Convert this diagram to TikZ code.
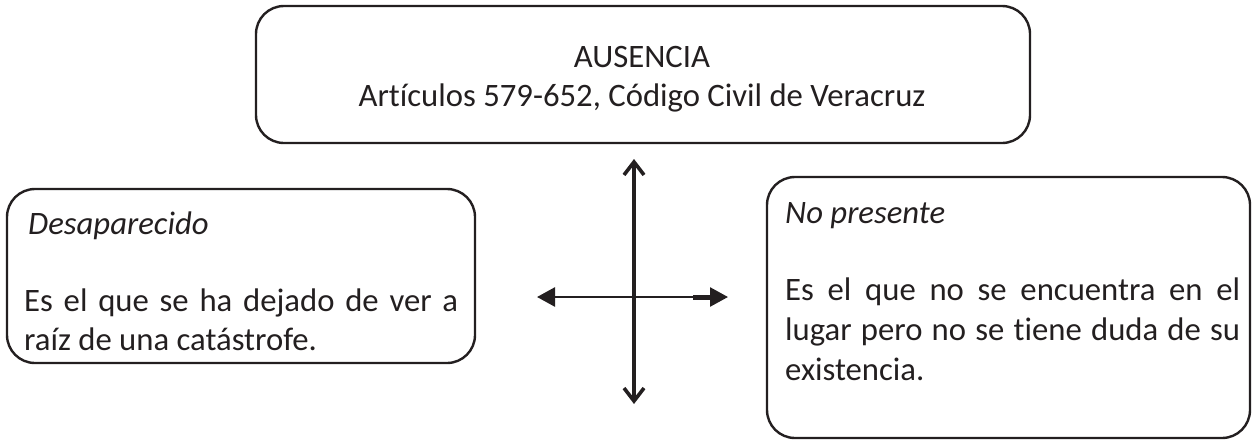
\documentclass[tikz,border=0pt]{standalone}
\usepackage{fontspec}
\setmainfont{Carlito}[Ligatures=NoCommon]
\usetikzlibrary{arrows.meta}
\definecolor{ink}{HTML}{231F20}
\begin{document}
\begin{tikzpicture}[x=1pt,y=-1pt,
  box/.style={draw=ink, line width=2.4pt, rounded corners=28pt, inner sep=0pt},
  txt/.style={inner sep=0pt, text=ink, font=\fontsize{32.7}{40}\selectfont},
  vline/.style={draw=ink, line width=3.6pt, {Straight Barb[length=13pt,width=20pt]}-{Straight Barb[length=13pt,width=20pt]}},
  hline/.style={draw=ink, line width=2.6pt, {Triangle[length=18pt,width=19pt]}-{Triangle[length=18pt,width=19pt]}}]
\useasboundingbox (0,0) rectangle (1252,440);
% boxes
\node[box, minimum width=774pt, minimum height=137pt] (top) at (643,74.5) {};
\node[box, minimum width=468pt, minimum height=174pt] (left) at (241,276) {};
\node[box, minimum width=483pt, minimum height=261pt] (right) at (1008.5,307.5) {};
% top text
\node[txt, anchor=base] (t1) at (642,67) {AUSENCIA};
\node[txt, anchor=base] (t2) at (642,106) {Artículos 579-652, Código Civil de Veracruz};
% left text
\node[txt, anchor=base west] (l1) at (28,234) {\itshape Desaparecido};
\node[txt, anchor=base west] (l2) at (24,311) {\makebox[434pt][s]{Es el que se ha dejado de ver a}};
\node[txt, anchor=base west] (l3) at (24,350) {raíz de una catástrofe.};
% right text
\node[txt, anchor=base west] (r1) at (785,223) {\itshape No presente};
\node[txt, anchor=base west] (r2) at (785,300) {\makebox[455pt][s]{Es el que no se encuentra en el}};
\node[txt, anchor=base west] (r3) at (785,340) {\makebox[455pt][s]{lugar pero no se tiene duda de su}};
\node[txt, anchor=base west] (r4) at (785,380) {existencia.};
% cross arrows
\coordinate (vt) at (634,159);
\coordinate (vb) at (634,404);
\coordinate (hl) at (537,297);
\coordinate (hr) at (728,297);
\coordinate (hk) at (693,297);
\draw[vline] (vb) -- (vt);
\draw[draw=ink, line width=5pt] (hk) -- ([xshift=-14pt]hr);
\draw[hline] (hl) -- (hr);
\end{tikzpicture}
\end{document}
